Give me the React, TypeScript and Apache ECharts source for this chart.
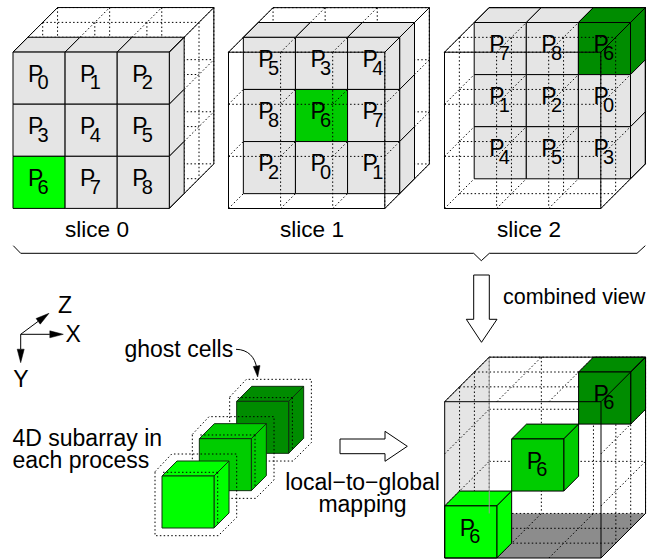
import React, { useEffect, useRef } from "react";
import * as echarts from "echarts";

const sliceCaptions = ["slice 0", "slice 1", "slice 2"];
const slice0Ranks = [0, 1, 2, 3, 4, 5, 6, 7, 8];
const slice1Ranks = [5, 3, 4, 8, 6, 7, 2, 0, 1];
const slice2Ranks = [7, 8, 6, 1, 2, 0, 4, 5, 3];
const greens = ["#00ff00", "#00cc00", "#008c00"];
const highlightedRank = 6;

const FONT = '"Liberation Sans", Arial, sans-serif';
const C = 52.1;
const D = 14.85;
const GREY = "#e5e5e5";
const LINE = "#000000";
const DOTS = [1.5, 2.3];

type Pt = [number, number];

function build() {
  const els: any[] = [];
  let z = 1;
  const P = (x0: number, y0: number, i: number, j: number, k: number): Pt => [
    x0 + i * C + k * D,
    y0 + j * C - k * D,
  ];
  const line = (a: Pt, b: Pt, dash?: number[], stroke = LINE, lw = 1) =>
    els.push({
      type: "line",
      z: z++,
      shape: { x1: a[0], y1: a[1], x2: b[0], y2: b[1] },
      style: { stroke, lineWidth: lw, lineDash: dash, fill: null },
      silent: true,
    });
  const poly = (pts: Pt[], fill: string | null, stroke: string | null = LINE, lw = 1, dash?: number[]) =>
    els.push({
      type: "polygon",
      z: z++,
      shape: { points: pts },
      style: { fill: fill ?? "none", stroke: stroke ?? "none", lineWidth: lw, lineDash: dash },
      silent: true,
    });
  const txt = (text: string, x: number, baseline: number, size: number, align = "left", fill = "#000") =>
    els.push({
      type: "text",
      z: z++,
      x,
      y: baseline - 0.3465 * size,
      style: {
        text,
        fill,
        font: `${size}px ${FONT}`,
        align,
        verticalAlign: "middle",
        textAlign: align,
        textVerticalAlign: "middle",
      },
      silent: true,
    });
  const solidArrow = (from: Pt, to: Pt, len: number, half: number) => {
    const dx = to[0] - from[0];
    const dy = to[1] - from[1];
    const l = Math.hypot(dx, dy);
    const ux = dx / l;
    const uy = dy / l;
    const base: Pt = [to[0] - ux * len, to[1] - uy * len];
    line(from, base, undefined, "#000", 1);
    poly(
      [to, [base[0] - uy * half, base[1] + ux * half], [base[0] + uy * half, base[1] - ux * half]],
      "#000",
      "#000",
      0.5
    );
  };
  const dottedPlane = (x0: number, y0: number, k: number) => {
    for (let i = 0; i <= 3; i++) line(P(x0, y0, i, 0, k), P(x0, y0, i, 3, k), DOTS, "#000");
    for (let j = 0; j <= 3; j++) line(P(x0, y0, 0, j, k), P(x0, y0, 3, j, k), DOTS, "#000");
  };
  const dottedDepth = (x0: number, y0: number, k1: number, k2: number, perimeterOnly = false) => {
    for (let i = 0; i <= 3; i++)
      for (let j = 0; j <= 3; j++) {
        if (perimeterOnly && i > 0 && i < 3 && j > 0 && j < 3) continue;
        line(P(x0, y0, i, j, k1), P(x0, y0, i, j, k2), DOTS, "#000");
      }
  };
  const rankLabel = (x: number, y: number, rank: number) => {
    txt("P", x + 15, y + 29.7, 23);
    txt(String(rank), x + 24.6, y + 37.3, 20);
  };
  const outerBack = (x0: number, y0: number) => {
    line(P(x0, y0, 0, 0, 0), P(x0, y0, 0, 0, 3));
    line(P(x0, y0, 3, 0, 0), P(x0, y0, 3, 0, 3));
    line(P(x0, y0, 3, 3, 0), P(x0, y0, 3, 3, 3));
    line(P(x0, y0, 0, 0, 3), P(x0, y0, 3, 0, 3));
    line(P(x0, y0, 3, 0, 3), P(x0, y0, 3, 3, 3));
  };
  const outerFront = (x0: number, y0: number) => {
    poly([P(x0, y0, 0, 0, 0), P(x0, y0, 3, 0, 0), P(x0, y0, 3, 3, 0), P(x0, y0, 0, 3, 0)], null);
  };
  const cell = (x0: number, y0: number, i: number, j: number, k: number, fill: string) => {
    poly([P(x0, y0, i, j, k), P(x0, y0, i + 1, j, k), P(x0, y0, i + 1, j + 1, k), P(x0, y0, i, j + 1, k)], fill);
  };
  const topFace = (x0: number, y0: number, i: number, j: number, k: number, fill: string) => {
    poly([P(x0, y0, i, j, k), P(x0, y0, i + 1, j, k), P(x0, y0, i + 1, j, k + 1), P(x0, y0, i, j, k + 1)], fill);
  };
  const sideFace = (x0: number, y0: number, i: number, j: number, k: number, fill: string) => {
    poly([P(x0, y0, i, j, k), P(x0, y0, i, j, k + 1), P(x0, y0, i, j + 1, k + 1), P(x0, y0, i, j + 1, k)], fill);
  };

  const drawSlice = (x0: number, y0: number, s: number, ranks: number[]) => {
    for (let k = s + 1; k <= 3; k++) dottedPlane(x0, y0, k);
    dottedDepth(x0, y0, s + 1, 3);
    const colorAt = (idx: number) => (ranks[idx] === highlightedRank ? greens[s] : GREY);
    for (let i = 0; i < 3; i++) topFace(x0, y0, i, 0, s, colorAt(i));
    for (let j = 0; j < 3; j++) sideFace(x0, y0, 3, j, s, colorAt(j * 3 + 2));
    for (let j = 0; j < 3; j++) for (let i = 0; i < 3; i++) cell(x0, y0, i, j, s, colorAt(j * 3 + i));
    for (let j = 0; j < 3; j++)
      for (let i = 0; i < 3; i++) {
        const p = P(x0, y0, i, j, s);
        rankLabel(p[0], p[1], ranks[j * 3 + i]);
      }
    for (let k = 0; k < s; k++) dottedPlane(x0, y0, k);
    if (s > 0) dottedDepth(x0, y0, 0, s);
    outerBack(x0, y0);
    if (s > 0) outerFront(x0, y0);
  };

  drawSlice(13, 52.1, 0, slice0Ranks);
  drawSlice(228.5, 52.2, 1, slice1Ranks);
  drawSlice(444.5, 52.2, 2, slice2Ranks);

  txt(sliceCaptions[0], 97, 237.2, 22.6, "center");
  txt(sliceCaptions[1], 312, 237.2, 22.6, "center");
  txt(sliceCaptions[2], 529, 237.2, 22.6, "center");

  // brace
  els.push({
    type: "polyline",
    z: z++,
    shape: {
      points: [
        [13.3, 245.7],
        [20.7, 253.3],
        [473.7, 253.3],
        [481.3, 260.7],
        [489.3, 253.3],
        [637, 253.3],
        [645.3, 245.7],
      ],
    },
    style: { stroke: LINE, lineWidth: 1, fill: "none" },
    silent: true,
  });

  // combined view arrow
  poly(
    [
      [473.7, 275],
      [489.3, 275],
      [489.3, 319.3],
      [497, 319.3],
      [481.5, 342.3],
      [466.3, 319.3],
      [473.7, 319.3],
    ],
    "#fff"
  );
  txt("combined view", 503, 304.3, 21.5);

  // axes
  const origin: Pt = [20.7, 334.3];
  solidArrow(origin, [63.3, 334.3], 13.5, 3.5);
  solidArrow(origin, [49, 313.3], 13.5, 3.5);
  solidArrow(origin, [20.7, 362.7], 13.5, 3.5);
  txt("Z", 58, 312.7, 23);
  txt("X", 65.5, 341.7, 23);
  txt("Y", 13.2, 386.7, 23);

  // text labels
  txt("ghost cells", 124.5, 356.7, 23);
  els.push({
    type: "bezierCurve",
    z: z++,
    shape: { x1: 236, y1: 349.3, cpx1: 248, cpy1: 349.5, cpx2: 255, cpy2: 357, x2: 256.7, y2: 368 },
    style: { stroke: "#000", lineWidth: 1, fill: "none" },
    silent: true,
  });
  poly(
    [
      [257.7, 377],
      [253.3, 366.5],
      [260, 365.5],
    ],
    "#000",
    "#000",
    0.5
  );
  txt("4D subarray in", 12.5, 446, 23);
  txt("each process", 12.5, 468.3, 23);

  // sub-arrays with ghost cells, drawn from the farthest to the nearest
  const SUB = 37.33;
  [2, 1, 0].forEach((n) => {
    const ox = 162 + n * SUB;
    const oy = 476 - n * SUB;
    const fill = greens[n];
    const f = (dx: number, dy: number): Pt => [ox + dx, oy + dy];
    poly([f(0, 0), f(52, 0), f(67, -15), f(15, -15)], fill, "#103010");
    poly([f(52, 0), f(67, -15), f(67, 37), f(52, 52)], fill, "#103010");
    poly([f(0, 0), f(52, 0), f(52, 52), f(0, 52)], fill, "#103010");
    poly(
      [f(-7, -4.3), f(9.7, -22), f(74.7, -22), f(74.7, 41.3), f(56.3, 59.7), f(-7, 59.7)],
      null,
      "#000",
      1,
      DOTS
    );
    line(f(1, -3.7), f(55.7, -3.7), DOTS, "#000");
    line(f(55.7, -3.7), f(55.7, 49), DOTS, "#000");
  });

  // mapping arrow
  poly(
    [
      [340, 439],
      [385, 439],
      [385, 431.3],
      [407.3, 446.3],
      [385, 461.3],
      [385, 453.7],
      [340, 453.7],
    ],
    "#fff"
  );
  txt("local\u2212to\u2212global", 362.5, 490, 23, "center");
  txt("mapping", 362.5, 511.7, 23, "center");

  // combined cube
  const x0 = 444.7;
  const y0 = 401.7;
  poly([P(x0, y0, 0, 0, 0), P(x0, y0, 0, 0, 3), P(x0, y0, 0, 3, 3), P(x0, y0, 0, 3, 0)], GREY, null);
  poly([P(x0, y0, 0, 3, 0), P(x0, y0, 3, 3, 0), P(x0, y0, 3, 3, 3), P(x0, y0, 0, 3, 3)], "#8c8c8c", null);
  dottedPlane(x0, y0, 3);
  [1, 2].forEach((k) =>
    poly([P(x0, y0, 0, 0, k), P(x0, y0, 3, 0, k), P(x0, y0, 3, 3, k), P(x0, y0, 0, 3, k)], null, "#000", 1, DOTS)
  );
  dottedDepth(x0, y0, 0, 3, true);
  const cubes: [number, number, number, number][] = [
    [2, 0, 2, 2],
    [1, 1, 1, 1],
    [0, 2, 0, 0],
  ];
  cubes.forEach(([i, j, k, color]) => {
    const fill = greens[color];
    topFace(x0, y0, i, j, k, fill);
    sideFace(x0, y0, i + 1, j, k, fill);
    cell(x0, y0, i, j, k, fill);
    const p = P(x0, y0, i, j, k);
    rankLabel(p[0], p[1], highlightedRank);
  });
  line(P(x0, y0, 0, 0, 3), P(x0, y0, 0, 3, 3), undefined, "#999");
  outerBack(x0, y0);
  outerFront(x0, y0);
  return els;
}

export default function App() {
  const ref = useRef<HTMLDivElement>(null);
  useEffect(() => {
    const chart = echarts.init(ref.current!, null, { renderer: "svg" });
    chart.setOption({
      animation: false,
      backgroundColor: "#ffffff",
      graphic: { elements: build() },
    });
    return () => chart.dispose();
  }, []);
  return <div ref={ref} style={{ position: "absolute", left: 0, top: 0, width: 657, height: 559 }} />;
}
